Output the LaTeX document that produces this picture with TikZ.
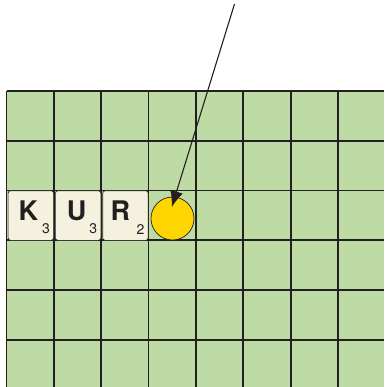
\documentclass[tikz,border=0pt]{standalone}
\usepackage{fontspec}
\setmainfont{TeX Gyre Heros}
\usetikzlibrary{arrows.meta}
\definecolor{boardgreen}{HTML}{BEDBA5}
\definecolor{tilecream}{HTML}{F4F1DE}
\definecolor{ink}{HTML}{231F20}
\definecolor{dotyellow}{HTML}{FFD500}
\tikzset{
  gridline/.style={draw=ink, line width=1.8pt},
  tile/.style={draw=ink, line width=0.6pt, fill=tilecream, rounded corners=2.5pt,
    minimum width=45.5pt, minimum height=49.5pt, inner sep=0pt, anchor=north west},
  letter/.style={font=\bfseries\fontsize{27}{27}\selectfont, text=ink},
  score/.style={font=\fontsize{14}{14}\selectfont, text=ink},
  marker/.style={circle, draw=ink, line width=0.7pt, fill=dotyellow, minimum size=43pt, inner sep=0pt},
  pointer/.style={draw=ink, line width=1.1pt, -{Latex[length=16pt,width=13pt]}}
}
\begin{document}
\begin{tikzpicture}[x=1pt,y=-1pt]
\useasboundingbox (0,0) rectangle (384,387);
% board
\fill[boardgreen] (6.5,91) rectangle (384,387);
\foreach \yy in {91,141,190.5,240,290,340}
  \draw[gridline] (6.5,\yy) -- (384,\yy);
\foreach \k in {0,...,7}
  \draw[gridline] ({6.5+47.35*\k},91) -- ({6.5+47.35*\k},387);
% tiles
\node[tile] (tk) at (7.8,190.5) {};
\node[tile] (tu) at (55.1,190.5) {};
\node[tile] (tr) at (102.4,190.5) {};
\node[letter] at ([xshift=-2.5pt,yshift=5pt]tk.center) {K};
\node[score] at ([xshift=-8pt,yshift=11.5pt]tk.south east) {3};
\node[letter] at ([xshift=-1.5pt,yshift=5pt]tu.center) {U};
\node[score] at ([xshift=-8pt,yshift=11.5pt]tu.south east) {3};
\node[letter] at ([xshift=-5pt,yshift=5pt]tr.center) {R};
\node[score] at ([xshift=-8pt,yshift=11.5pt]tr.south east) {2};
% marker
\node[marker] (dot) at (172.5,218.5) {};
% arrow
\coordinate (from) at (234.5,4);
\coordinate (tip) at (171.8,207);
\draw[pointer] (from) -- (tip);
\end{tikzpicture}
\end{document}
